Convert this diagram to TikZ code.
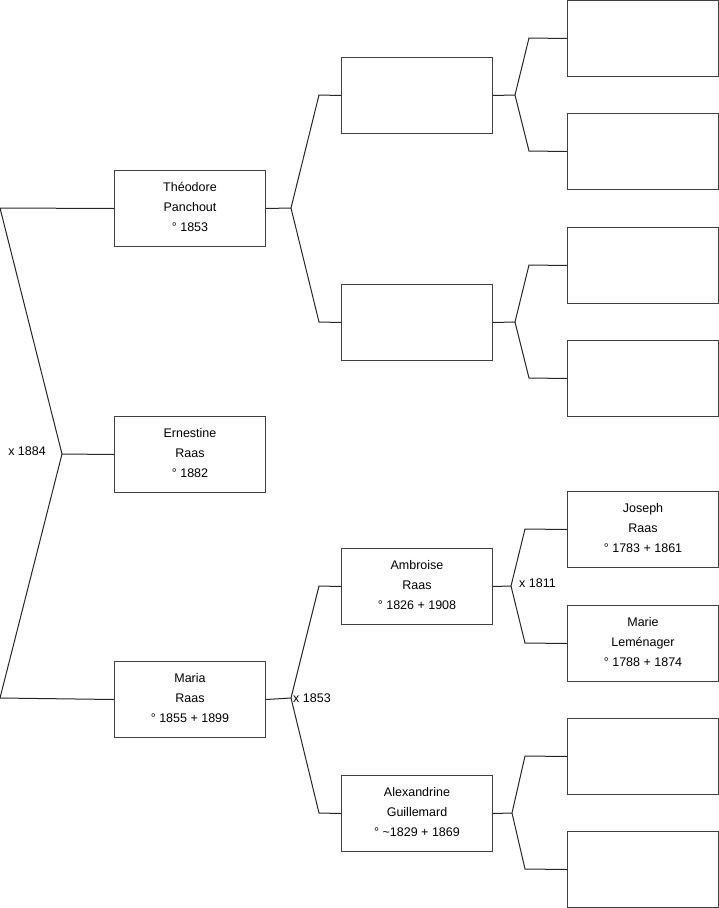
\documentclass[tikz,border=0pt]{standalone}
\usepackage{fontspec}
\setmainfont{Liberation Sans}
\begin{document}
\begin{tikzpicture}[x=1pt,y=-1pt,
  person/.style={draw=black!75,line width=1pt,minimum width=151pt,minimum height=76pt,anchor=north west,inner sep=0pt,text depth=4pt,align=center,font=\fontsize{12.5}{20}\selectfont},
  link/.style={draw=black!85,line width=1pt},
  lab/.style={font=\fontsize{12.5}{14}\selectfont,inner sep=0pt}]
\useasboundingbox (0,0) rectangle (719,908);
% generation 1
\node[person] (theo) at (114,170) {Théodore\\Panchout\\° 1853};
\node[person] (ern) at (114,416) {Ernestine\\Raas\\° 1882};
\node[person] (maria) at (114,661) {Maria\\Raas\\° 1855 + 1899};
% generation 2
\node[person] (g2a) at (341,57) {};
\node[person] (g2b) at (341,284) {};
\node[person] (ambr) at (341,548) {Ambroise\\Raas\\° 1826 + 1908};
\node[person] (alex) at (341,775) {Alexandrine\\Guillemard\\° \textasciitilde1829 + 1869};
% generation 3
\node[person] (g3a) at (567,0) {};
\node[person] (g3b) at (567,113) {};
\node[person] (g3c) at (567,227) {};
\node[person] (g3d) at (567,340) {};
\node[person] (jos) at (567,491) {Joseph\\Raas\\° 1783 + 1861};
\node[person] (marie) at (567,605) {Marie\\Leménager\\° 1788 + 1874};
\node[person] (g3g) at (567,718) {};
\node[person] (g3h) at (567,831) {};
% fork points
\coordinate (f0) at (62,454);
\coordinate (t0) at (0,208);
\coordinate (b0) at (0,698);
\coordinate (f1) at (291,208);
\coordinate (f1a) at (319,95);
\coordinate (f1b) at (319,322);
\coordinate (f2) at (291,698);
\coordinate (f2a) at (319,586);
\coordinate (f2b) at (319,813);
\coordinate (f3) at (515,95);
\coordinate (f3a) at (529,38);
\coordinate (f3b) at (529,151);
\coordinate (f4) at (515,322);
\coordinate (f4a) at (529,265);
\coordinate (f4b) at (529,378);
\coordinate (f5) at (511,586);
\coordinate (f5a) at (525,529);
\coordinate (f5b) at (525,643);
\coordinate (f6) at (512,813);
\coordinate (f6a) at (525,756);
\coordinate (f6b) at (525,869);
% connectors
\draw[link] (theo.west) -- (t0) -- (f0) -- (b0) -- (maria.west);
\draw[link] (ern.west) -- (f0);
\draw[link] (theo.east) -- (f1);
\draw[link] (g2a.west) -- (f1a) -- (f1) -- (f1b) -- (g2b.west);
\draw[link] (maria.east) -- (f2);
\draw[link] (ambr.west) -- (f2a) -- (f2) -- (f2b) -- (alex.west);
\draw[link] (g2a.east) -- (f3);
\draw[link] (g3a.west) -- (f3a) -- (f3) -- (f3b) -- (g3b.west);
\draw[link] (g2b.east) -- (f4);
\draw[link] (g3c.west) -- (f4a) -- (f4) -- (f4b) -- (g3d.west);
\draw[link] (ambr.east) -- (f5);
\draw[link] (jos.west) -- (f5a) -- (f5) -- (f5b) -- (marie.west);
\draw[link] (alex.east) -- (f6);
\draw[link] (g3g.west) -- (f6a) -- (f6) -- (f6b) -- (g3h.west);
% marriage labels
\node[lab,anchor=east] (m0) at (46,451) {x 1884};
\node[lab,anchor=west] (m1) at (293,698) {x 1853};
\node[lab,anchor=west] (m2) at (519,583) {x 1811};
\end{tikzpicture}
\end{document}
